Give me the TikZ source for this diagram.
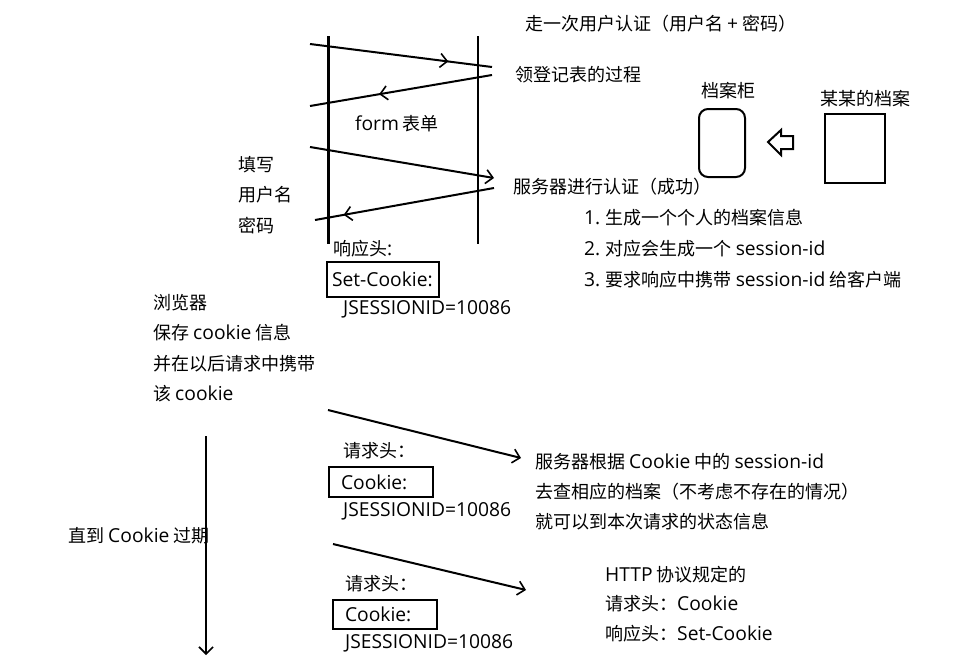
\documentclass[tikz,border=0pt]{standalone}
\usepackage{fontspec}
\setmainfont{Noto Sans CJK SC}
\newfontfamily\lat{Open Sans}[Scale=1.07]
\usetikzlibrary{arrows.meta,decorations.markings}
\begin{document}
\begin{tikzpicture}[x=1pt,y=-1pt,
  txt/.style={anchor=west,inner sep=0pt,font=\fontsize{18}{20}\selectfont},
  ln/.style={line width=2pt},
  tip/.style={-{Straight Barb[length=7pt,width=14pt,line width=1.6pt]}},
  midtip/.style={postaction={decorate},decoration={markings,mark=at position #1 with {\arrow{Straight Barb[length=7pt,width=14pt,line width=1.6pt]}}}},
  hbox/.style={draw,line width=2pt,anchor=west,align=left,font=\fontsize{18}{20}\selectfont,inner ysep=0pt}
]
\useasboundingbox (0,0) rectangle (955,664);
% life lines
\coordinate (L1) at (328,36); \coordinate (L2) at (328,244);
\coordinate (R1) at (478,36); \coordinate (R2) at (478,244);
\draw[line width=3pt] (L1) -- (L2);
\draw[line width=2.2pt] (R1) -- (R2);
% messages
\coordinate (a1) at (310,44); \coordinate (b1) at (492,67);
\coordinate (a2) at (492,75); \coordinate (b2) at (310,106);
\coordinate (a3) at (310,147); \coordinate (b3) at (494,178);
\coordinate (a4) at (494,188); \coordinate (b4) at (315,220);
\draw[ln,midtip=0.76] (a1) -- (b1);
\draw[ln,midtip=0.62] (a2) -- (b2);
\draw[ln,tip] (a3) -- (b3);
\draw[ln,midtip=0.84] (a4) -- (b4);
\node[txt] (t1) at (525,24) {走一次用户认证（用户名 {\lat+} 密码）};
\node[txt] (t2) at (515,75) {领登记表的过程};
\node[txt,anchor=center] (t3) at (397,124) {{\lat form} 表单};
\node[txt] (t4) at (513,187) {服务器进行认证（成功）};
\node[txt] (t5) at (584,218) {{\lat 1.} 生成一个个人的档案信息};
\node[txt] (t6) at (584,249) {{\lat 2.} 对应会生成一个 {\lat session-id}};
\node[txt] (t7) at (584,280) {{\lat 3.} 要求响应中携带 {\lat session-id} 给客户端};
\node[txt] (f1) at (238,165) {填写};
\node[txt] (f2) at (238,195) {用户名};
\node[txt] (f3) at (238,226) {密码};
% cabinet
\node[txt,anchor=center] (cab) at (728,91) {档案柜};
\node[txt,anchor=center] (fil) at (865,99) {某某的档案};
\node[draw,line width=2pt,rounded corners=9pt,minimum width=46pt,minimum height=68pt,inner sep=0pt] (cabbox) at (722,143) {};
\node[draw,line width=2pt,minimum width=60pt,minimum height=69pt,inner sep=0pt] (filbox) at (855,148) {};
\draw[line width=2pt,line join=miter] (768,142) -- (781,130) -- (781,136) -- (793,136) -- (793,149) -- (781,149) -- (781,155) -- cycle;
% response header
\node[txt] (rh) at (333,249) {响应头{\lat :}};
\node[hbox,text width=102pt,inner xsep=5pt,minimum height=35pt] (sc) at (326,279) {\lat Set-Cookie:};
\node[txt] (j1) at (343,309) {\lat JSESSIONID=10086};
% browser
\node[txt] (br1) at (153,303) {浏览器};
\node[txt] (br2) at (153,333) {保存 {\lat cookie} 信息};
\node[txt] (br3) at (153,364) {并在以后请求中携带};
\node[txt] (br4) at (153,394) {该 {\lat cookie}};
% request 1
\coordinate (a5) at (328,410); \coordinate (b5) at (521,458);
\draw[ln,tip] (a5) -- (b5);
\node[txt] (q1) at (343,451) {请求头：};
\node[hbox,text width=80pt,inner xsep=12pt,minimum height=30pt] (ck1) at (328,482) {\lat Cookie:};
\node[txt] (j2) at (343,511) {\lat JSESSIONID=10086};
\node[txt] (s1) at (535,462) {服务器根据 {\lat Cookie} 中的 {\lat session-id}};
\node[txt] (s2) at (535,492) {去查相应的档案（不考虑不存在的情况）};
\node[txt] (s3) at (535,522) {就可以到本次请求的状态信息};
% timeline
\node[txt] (exp) at (68,536) {直到 {\lat Cookie} 过期};
\coordinate (v1) at (206,436); \coordinate (v2) at (206,655);
\draw[ln,tip] (v1) -- (v2);
% request 2
\coordinate (a6) at (333,544); \coordinate (b6) at (526,590);
\draw[ln,tip] (a6) -- (b6);
\node[txt] (q2) at (345,584) {请求头：};
\node[hbox,text width=80pt,inner xsep=12pt,minimum height=29pt] (ck2) at (332,614) {\lat Cookie:};
\node[txt] (j3) at (345,643) {\lat JSESSIONID=10086};
\node[txt] (h1) at (605,575) {{\lat HTTP} 协议规定的};
\node[txt] (h2) at (605,604) {请求头：{\lat Cookie}};
\node[txt] (h3) at (605,634) {响应头：{\lat Set-Cookie}};
\end{tikzpicture}
\end{document}
